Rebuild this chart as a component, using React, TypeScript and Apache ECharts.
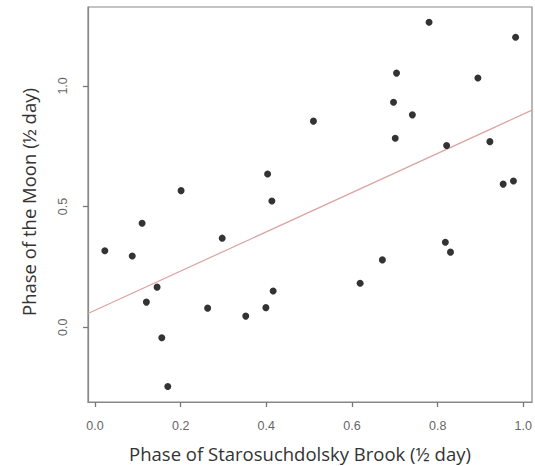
import React, { useEffect, useRef } from "react";
import * as echarts from "echarts";

// Phase of Starosuchdolsky Brook (x) vs Phase of the Moon (y), both in ½ day
const brookPhase = [
  0.403, 0.201, 0.413, 0.110, 0.297, 0.780, 0.982, 0.704, 0.894, 0.697,
  0.741, 0.510, 0.701, 0.821, 0.922, 0.953, 0.977, 0.023, 0.087, 0.145,
  0.120, 0.263, 0.352, 0.399, 0.416, 0.156, 0.170, 0.818, 0.830, 0.671,
  0.619,
];
const moonPhase = [
  0.635, 0.566, 0.523, 0.431, 0.369, 1.264, 1.202, 1.053, 1.033, 0.932,
  0.880, 0.854, 0.783, 0.753, 0.769, 0.593, 0.606, 0.317, 0.295, 0.166,
  0.104, 0.079, 0.046, 0.081, 0.150, -0.044, -0.246, 0.352, 0.311, 0.279,
  0.182,
];
// fitted regression line
const fitIntercept = 0.07;
const fitSlope = 0.813;

const xTicks = [0, 0.2, 0.4, 0.6, 0.8, 1.0];
const yTicks = [0, 0.5, 1.0];

const xTitle = "Phase of Starosuchdolsky Brook (½ day)";
const yTitle = "Phase of the Moon (½ day)";

const X_MIN = -0.0163;
const X_MAX = 1.0203;
const Y_MIN = -0.31;
const Y_MAX = 1.327;

export default function App() {
  const ref = useRef<HTMLDivElement>(null);
  useEffect(() => {
    if (!ref.current) return;
    const chart = echarts.init(ref.current, null, { renderer: "svg" });
    const points = brookPhase.map((x, i) => [x, moonPhase[i]]);
    const fitLine = [
      [X_MIN, fitIntercept + fitSlope * X_MIN],
      [X_MAX, fitIntercept + fitSlope * X_MAX],
    ];
    const tickColor = "#777";
    const titleFont = {
      fill: "#333",
      fontSize: 18.5,
      lineHeight: 20,
      fontFamily: "Open Sans, sans-serif",
      align: "center",
      verticalAlign: "middle",
    };
    chart.setOption({
      animation: false,
      backgroundColor: "#fff",
      grid: {
        left: 88,
        right: 3,
        top: 7,
        bottom: 64,
        show: true,
        borderColor: "#888",
        borderWidth: 1.2,
        backgroundColor: "transparent",
      },
      graphic: [
        {
          type: "text",
          x: 300,
          y: 453,
          style: { text: xTitle, ...titleFont },
        },
        {
          type: "text",
          x: 28,
          y: 202,
          rotation: Math.PI / 2,
          style: { text: yTitle, ...titleFont },
        },
      ],
      xAxis: {
        type: "value",
        min: X_MIN,
        max: X_MAX,
        splitLine: { show: false },
        axisLine: { show: true, onZero: false, lineStyle: { color: "#888", width: 1.2 } },
        axisTick: {
          show: true,
          inside: false,
          length: 5,
          customValues: xTicks,
          lineStyle: { color: tickColor, width: 1.3 },
        },
        axisLabel: {
          customValues: xTicks,
          formatter: (v: number) => v.toFixed(1),
          color: "#666",
          fontSize: 12.5,
          fontFamily: "Liberation Sans, Arial, sans-serif",
          margin: 17,
        },
      },
      yAxis: {
        type: "value",
        min: Y_MIN,
        max: Y_MAX,
        splitLine: { show: false },
        axisLine: { show: true, onZero: false, lineStyle: { color: "#888", width: 1.2 } },
        axisTick: {
          show: true,
          inside: false,
          length: 5,
          customValues: yTicks,
          lineStyle: { color: tickColor, width: 1.3 },
        },
        axisLabel: {
          customValues: yTicks,
          formatter: (v: number) => v.toFixed(1),
          rotate: 90,
          color: "#666",
          fontSize: 12.5,
          fontFamily: "Liberation Sans, Arial, sans-serif",
          margin: 19,
        },
      },
      series: [
        {
          type: "line",
          data: fitLine,
          symbol: "none",
          lineStyle: { color: "#dba3a3", width: 1.2 },
          silent: true,
          z: 1,
        },
        {
          type: "scatter",
          data: points,
          symbol: "circle",
          symbolSize: 7,
          itemStyle: { color: "#000" },
          z: 2,
        },
      ],
    });
    return () => chart.dispose();
  }, []);
  return (
    <div
      ref={ref}
      style={{ position: "fixed", left: 0, top: 0, width: 535, height: 466 }}
    />
  );
}
